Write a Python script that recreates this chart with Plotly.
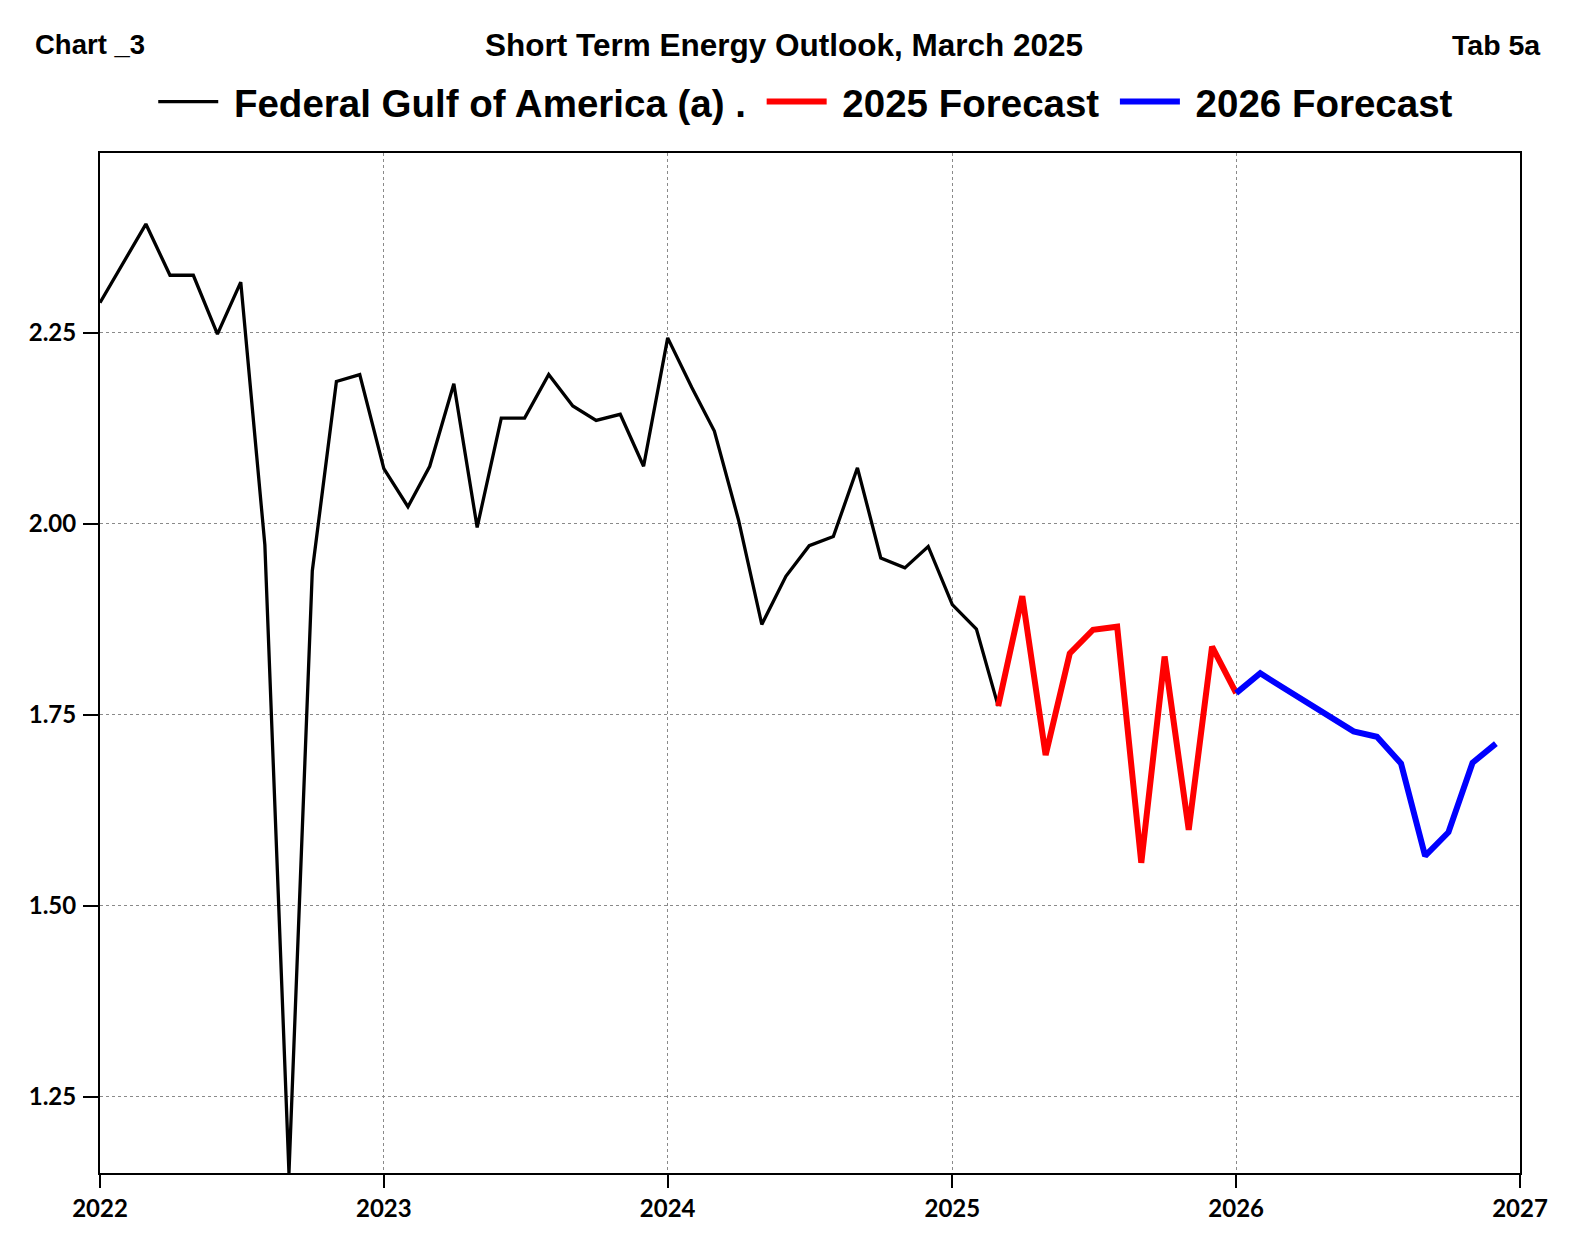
import plotly.graph_objects as go
import pandas as pd

# ---- data (million barrels per day) ----
hist_months = pd.date_range("2022-01-01", "2025-03-01", freq="MS")
hist_values = [
    2.289, 2.343, 2.392, 2.325, 2.325, 2.248, 2.316, 1.972, 1.150, 1.938, 2.186, 2.195,
    2.072, 2.022, 2.075, 2.183, 1.995, 2.138, 2.138, 2.195, 2.154, 2.135, 2.143, 2.075,
    2.243, 2.178, 2.121, 2.005, 1.868, 1.931, 1.971, 1.983, 2.073, 1.955, 1.942, 1.970,
    1.894, 1.862, 1.761,
]
f25_months = pd.date_range("2025-03-01", "2026-01-01", freq="MS")
f25_values = [1.761, 1.905, 1.697, 1.830, 1.861, 1.865, 1.556, 1.826, 1.599, 1.839, 1.778]
f26_months = pd.date_range("2026-01-01", "2026-12-01", freq="MS")
f26_values = [1.778, 1.804, 1.786, 1.767, 1.748, 1.728, 1.721, 1.686, 1.565, 1.596, 1.687, 1.712]

series_names = ["Federal Gulf of America (a) .", "2025 Forecast", "2026 Forecast"]
y_ticks = [1.25, 1.50, 1.75, 2.00, 2.25]
y_tick_labels = ["1.25", "1.50", "1.75", "2.00", "2.25"]
x_ticks = ["2022-01-01", "2023-01-01", "2024-01-01", "2025-01-01", "2026-01-01", "2027-01-01"]
x_tick_labels = ["2022", "2023", "2024", "2025", "2026", "2027"]

NB = "\u00a0"

fig = go.Figure()
fig.add_trace(go.Scatter(x=hist_months, y=hist_values, mode="lines",
                         name=NB + series_names[0] + NB,
                         line=dict(color="black", width=3.3)))
fig.add_trace(go.Scatter(x=f25_months, y=f25_values, mode="lines",
                         name=NB + series_names[1] + NB,
                         line=dict(color="#ff0000", width=6)))
fig.add_trace(go.Scatter(x=f26_months, y=f26_values, mode="lines",
                         name=NB + series_names[2],
                         line=dict(color="#0000ff", width=6)))

tick_font = dict(family="Lato", size=24, color="black", weight="bold")

fig.update_layout(
    width=1575, height=1260,
    margin=dict(l=100, r=55, t=153, b=87),
    paper_bgcolor="white", plot_bgcolor="white",
    showlegend=True,
    legend=dict(orientation="h", x=0.497, xanchor="center", y=1.05, yanchor="middle",
                font=dict(family="Liberation Sans", size=38.5, color="black", weight="bold"),
                itemwidth=60, bgcolor="rgba(0,0,0,0)"),
    xaxis=dict(type="date", range=["2022-01-01", "2027-01-01"],
               tickvals=x_ticks, ticktext=x_tick_labels,
               showline=True, linecolor="black", linewidth=2, mirror=True,
               ticks="outside", ticklen=13, tickwidth=2, tickcolor="black",
               showgrid=True, gridcolor="#8a8a8a", griddash="dot", gridwidth=1,
               tickfont=tick_font, zeroline=False),
    yaxis=dict(range=[1.15, 2.485],
               tickvals=y_ticks, ticktext=y_tick_labels,
               showline=True, linecolor="black", linewidth=2, mirror=True,
               ticks="outside", ticklen=15, tickwidth=2, tickcolor="black",
               showgrid=True, gridcolor="#8a8a8a", griddash="dot", gridwidth=1,
               tickfont=tick_font, zeroline=False, ticklabelstandoff=2),
    annotations=[
        dict(text="Chart _3", xref="paper", yref="paper", x=-0.0475, y=1.106,
             xanchor="left", yanchor="middle", showarrow=False,
             font=dict(family="Liberation Sans", size=27.5, color="black", weight="bold")),
        dict(text="Short Term Energy Outlook, March 2025", xref="paper", yref="paper",
             x=0.482, y=1.106, xanchor="center", yanchor="middle", showarrow=False,
             font=dict(family="Liberation Sans", size=31.5, color="black", weight="bold")),
        dict(text="Tab 5a", xref="paper", yref="paper", x=1.016, y=1.106,
             xanchor="right", yanchor="middle", showarrow=False,
             font=dict(family="Liberation Sans", size=28.5, color="black", weight="bold")),
    ],
)

fig.write_html("out.html", config={"displayModeBar": False},
               post_script="document.body.style.margin='0';")
